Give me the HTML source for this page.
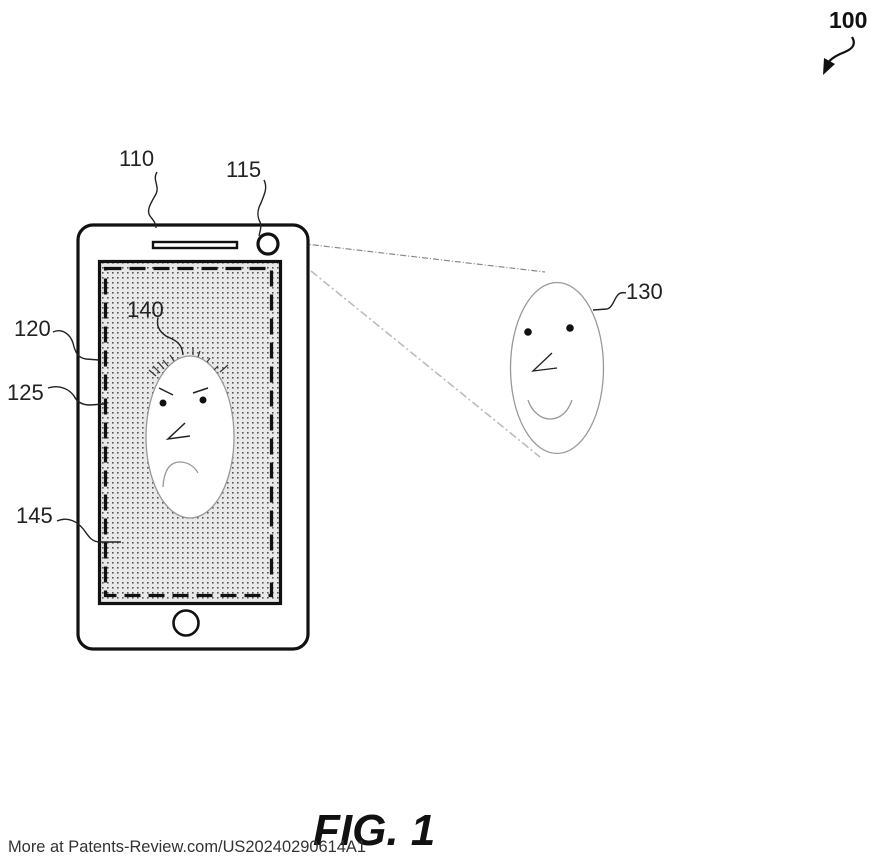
<!DOCTYPE html>
<html>
<head>
<meta charset="utf-8">
<style>
html,body{margin:0;padding:0;background:#fff;}
svg{display:block;}
text{font-family:"Liberation Sans",sans-serif;}
</style>
</head>
<body>
<svg width="880" height="863" viewBox="0 0 880 863" xmlns="http://www.w3.org/2000/svg">
<defs>
<pattern id="dots" x="0" y="0" width="5" height="5" patternUnits="userSpaceOnUse">
<rect width="5" height="5" fill="#e9e9e9"/>
<rect x="2" y="2" width="1.6" height="1.6" fill="#555"/>
</pattern>
</defs>
<rect width="880" height="863" fill="#fff"/>

<!-- 100 -->
<text x="829" y="28" font-size="23" font-weight="bold" fill="#111">100</text>
<path d="M852,37 C858,47 848,51 840,54 C834,57 829,60 827,65" fill="none" stroke="#111" stroke-width="2.2"/>
<polygon points="823,75 824,58 835,64" fill="#111"/>

<!-- beam lines -->
<path d="M280,241 L545,272" stroke="#888" stroke-width="1.2" stroke-dasharray="6,2,1,2" fill="none"/>
<path d="M311,271 L540,457" stroke="#bbb" stroke-width="1.6" stroke-dasharray="8,3,2,3" fill="none"/>

<!-- phone -->
<rect x="78" y="225" width="230" height="424" rx="15" ry="15" fill="#fff" stroke="#111" stroke-width="3.2"/>
<rect x="153" y="242" width="84" height="6" fill="#fff" stroke="#111" stroke-width="2.4"/>
<circle cx="268" cy="244" r="10" fill="#fff" stroke="#111" stroke-width="3.2"/>
<rect x="99.5" y="261.5" width="181" height="342" fill="url(#dots)" stroke="#111" stroke-width="3.2"/>
<rect x="105.5" y="268.5" width="166" height="327" fill="none" stroke="#111" stroke-width="3.2" stroke-dasharray="16,8"/>
<circle cx="186" cy="623" r="12.5" fill="#fff" stroke="#111" stroke-width="2.6"/>

<!-- face 140 -->
<ellipse cx="190" cy="437" rx="44" ry="81" fill="#fff" stroke="#999" stroke-width="1.3"/>
<g stroke="#333" stroke-width="1.2" fill="none">
<line x1="149" y1="370" x2="156" y2="376"/>
<line x1="153" y1="366" x2="160" y2="373"/>
<line x1="158" y1="362" x2="164" y2="369"/>
<line x1="163" y1="360" x2="168" y2="366"/>
<line x1="170" y1="355" x2="174" y2="361"/>
<line x1="193" y1="347" x2="193" y2="355"/>
<line x1="200" y1="351" x2="198" y2="357"/>
<line x1="210" y1="358" x2="207" y2="362"/>
<line x1="218" y1="366" x2="214" y2="370"/>
<line x1="228" y1="365" x2="220" y2="372"/>
</g>
<g stroke="#222" stroke-width="1.5" fill="none">
<line x1="159" y1="388" x2="173" y2="395"/>
<line x1="193" y1="393" x2="208" y2="388"/>
<polyline points="185,423 168,439 190,436"/>
</g>
<circle cx="163" cy="403" r="3.5" fill="#111"/>
<circle cx="203" cy="400" r="3.5" fill="#111"/>
<path d="M163,487 C164,470 170,462 180,462 C188,462 195,467 198,473" fill="none" stroke="#999" stroke-width="1.3"/>

<!-- face 130 -->
<ellipse cx="557" cy="368" rx="46.5" ry="85.5" fill="#fff" stroke="#999" stroke-width="1.3"/>
<circle cx="528" cy="332" r="3.8" fill="#111"/>
<circle cx="570" cy="328" r="3.8" fill="#111"/>
<polyline points="552,353 533,371 557,368" fill="none" stroke="#222" stroke-width="1.3"/>
<path d="M528,400 C532,412 541,419 550,419 C560,419 568,412 572,400" fill="none" stroke="#999" stroke-width="1.3"/>

<!-- labels -->
<g font-size="22" fill="#222">
<text x="119" y="166">110</text>
<text x="226" y="177">115</text>
<text x="14" y="336">120</text>
<text x="7" y="400">125</text>
<text x="16" y="523">145</text>
<text x="127" y="317">140</text>
<text x="626" y="299">130</text>
</g>

<!-- leaders -->
<g fill="none" stroke="#222" stroke-width="1.4">
<path d="M157,172 C152,180 160,186 156,194 C151,203 146,210 150,216 C153,220 156,223 156,228"/>
<path d="M264,180 C268,188 264,195 261,203 C256,212 258,218 260,222 C262,226 260,231 259,236"/>
<path d="M53,332 C62,328 70,334 73,343 C75,352 78,358 86,359 L99,360"/>
<path d="M48,388 C60,384 70,390 74,396 C77,402 82,405 90,405 L104,404"/>
<path d="M57,521 C68,516 78,522 84,530 C89,537 92,542 100,542 L121,542"/>
<path d="M158,318 C156,326 160,332 166,336 C174,340 182,342 183,355"/>
<path d="M593,310 L607,309 C612,308 614,300 617,296 C619,293 622,292 626,293"/>
</g>

<!-- FIG. 1 -->
<text x="313" y="845" font-size="44" font-weight="bold" font-style="italic" fill="#111">FIG. 1</text>

<!-- watermark -->
<text x="8" y="852" font-size="16.5" fill="#333" textLength="358" lengthAdjust="spacingAndGlyphs">More at Patents-Review.com/US20240290614A1</text>
</svg>
</body>
</html>
